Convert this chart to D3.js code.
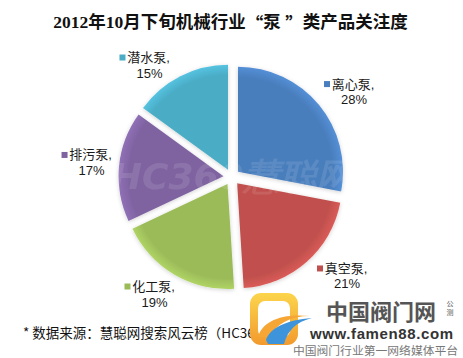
<!DOCTYPE html>
<html><head><meta charset="utf-8">
<script src="https://cdn.jsdelivr.net/npm/d3@7/dist/d3.min.js"></script>
<style>
html,body{margin:0;padding:0;background:#fff;}
svg{display:block;}
</style></head>
<body>
<svg id="chart" width="463" height="358"></svg>
<script>
// ---- data ----
const titleParts = ["2012年10月下旬机械行业", "“", "泵 ", "”", "类产品关注度"];
const categories = ["离心泵", "真空泵", "化工泵", "排污泵", "潜水泵"];
const values = [28, 21, 19, 17, 15];
const percentLabels = ["28%", "21%", "19%", "17%", "15%"];
const sourceText = "* 数据来源：慧聪网搜索风云榜（HC360）";

// ---- layout / style ----
const colors = ["#4a7ebd", "#c0504d", "#9bbb59", "#7f63a1", "#4bacc6"];
const W = 463, H = 358;
const cx = 231.7, cy = 177, R = 105, explode = 8.2, labelR = 145;
const labelNudge = [[9.6, 7], [18.4, -9.8], [-4.4, -7.8], [3.2, -0.9], [-17.4, 17.2]];
const cjk = "'Liberation Sans','Noto Sans CJK SC',sans-serif";

const svg = d3.select("#chart");
const defs = svg.append("defs");
const shadow = defs.append("filter").attr("id", "sh").attr("x", "-20%").attr("y", "-20%").attr("width", "140%").attr("height", "140%");
shadow.append("feDropShadow").attr("dx", 0).attr("dy", 1).attr("stdDeviation", 2).attr("flood-color", "#000").attr("flood-opacity", 0.18);

colors.forEach((c, i) => {
  const g = defs.append("radialGradient").attr("id", "g" + i)
    .attr("gradientUnits", "userSpaceOnUse").attr("cx", 0).attr("cy", 0).attr("r", R);
  g.append("stop").attr("offset", "0%").attr("stop-color", c);
  g.append("stop").attr("offset", "90%").attr("stop-color", c);
  g.append("stop").attr("offset", "100%").attr("stop-color", d3.color(c).brighter(0.35));
});

// title
const tt = svg.append("text").attr("x", 230.5).attr("y", 22).attr("text-anchor", "middle")
  .attr("dominant-baseline", "central")
  .style("font-family", "'Liberation Serif','Noto Sans CJK SC',serif")
  .style("font-weight", "bold").style("font-size", "17.5px").attr("fill", "#111");
titleParts.forEach((t, i) => {
  const s = tt.append("tspan").text(t);
  if (i === 1 || i === 3) s.style("font-family", "'Noto Sans CJK SC',sans-serif");
});

const pie = d3.pie().sort(null).value(d => d);
const arcs = pie(values);
const arc = d3.arc().innerRadius(0).outerRadius(R);

const g = svg.append("g").attr("transform", `translate(${cx},${cy})`);
g.selectAll("path.slice").data(arcs).join("path")
  .attr("class", "slice")
  .attr("d", arc)
  .attr("fill", (d, i) => `url(#g${i})`)
  .attr("filter", "url(#sh)")
  .attr("transform", d => {
    const m = (d.startAngle + d.endAngle) / 2;
    return `translate(${Math.sin(m) * explode},${-Math.cos(m) * explode})`;
  });

// faint watermark over the pie
g.append("text").attr("x", 0).attr("y", 12).attr("text-anchor", "middle")
  .style("font-family", "'DejaVu Sans',sans-serif").style("font-style", "italic").style("font-weight", "bold")
  .style("font-size", "36px").attr("fill", "#fff").attr("opacity", 0.1).text("HC360慧聪网");

// labels
const lab = g.selectAll("g.lab").data(arcs).join("g").attr("class", "lab")
  .attr("transform", (d, i) => {
    const m = (d.startAngle + d.endAngle) / 2;
    const x = Math.sin(m) * labelR + labelNudge[i][0];
    const y = -Math.cos(m) * labelR + labelNudge[i][1];
    return `translate(${x},${y})`;
  });
lab.append("text").attr("x", 0).attr("y", -7.5).attr("text-anchor", "middle")
  .attr("dominant-baseline", "central")
  .style("font-family", cjk).style("font-size", "13px").attr("fill", "#1a1a1a")
  .text((d, i) => categories[i] + ",");
lab.append("rect").attr("x", -29).attr("y", -10.5).attr("width", 6).attr("height", 6)
  .attr("fill", (d, i) => colors[i]);
lab.append("text").attr("x", 1).attr("y", 8).attr("text-anchor", "middle")
  .attr("dominant-baseline", "central")
  .style("font-family", cjk).style("font-size", "13px").attr("fill", "#1a1a1a")
  .text((d, i) => percentLabels[i]);

// source
svg.append("text").attr("x", 23).attr("y", 332).attr("dominant-baseline", "central")
  .style("font-family", "'Noto Sans CJK SC',sans-serif").style("font-size", "13.5px").attr("fill", "#111")
  .text(sourceText);

// famen88 watermark logo
const lg = svg.append("g");
const og = defs.append("linearGradient").attr("id", "og").attr("x1", 0).attr("y1", 0).attr("x2", 0).attr("y2", 1);
og.append("stop").attr("offset", "0%").attr("stop-color", "#fcd54c");
og.append("stop").attr("offset", "100%").attr("stop-color", "#f29a2e");
lg.append("rect").attr("x", 250).attr("y", 293).attr("width", 48).attr("height", 52).attr("rx", 11).attr("fill", "url(#og)");
lg.append("rect").attr("x", 258).attr("y", 301).attr("width", 32).attr("height", 36).attr("rx", 7).attr("fill", "#fff");
lg.append("path").attr("d", "M258,337 C262,322 280,313 310,316 C290,316 276,324 270,337 Z").attr("fill", "#f5a634");
lg.append("path").attr("d", "M266,340 C270,328 286,320 312,318 C296,322 288,330 284,344 L268,344 Z").attr("fill", "#3d94db");
lg.append("text").attr("x", 381).attr("y", 310).attr("text-anchor", "middle").attr("dominant-baseline", "central")
  .style("font-family", "'Noto Sans CJK SC',sans-serif").style("font-weight", "bold").style("font-size", "22px")
  .attr("fill", "#555").text("中国阀门网");
lg.append("text").attr("x", 450).attr("y", 303).attr("text-anchor", "middle").attr("dominant-baseline", "central")
  .style("font-family", "'Noto Sans CJK SC',sans-serif").style("font-size", "7px").attr("fill", "#555").text("公");
lg.append("text").attr("x", 450).attr("y", 312).attr("text-anchor", "middle").attr("dominant-baseline", "central")
  .style("font-family", "'Noto Sans CJK SC',sans-serif").style("font-size", "7px").attr("fill", "#555").text("测");
lg.append("text").attr("x", 381.5).attr("y", 333.5).attr("text-anchor", "middle").attr("dominant-baseline", "central")
  .style("font-family", "'Liberation Sans',sans-serif").style("font-weight", "bold").style("font-size", "15px")
  .attr("textLength", 143).attr("fill", "#333").text("www.famen88.com");
lg.append("text").attr("x", 375.5).attr("y", 349).attr("text-anchor", "middle").attr("dominant-baseline", "central")
  .style("font-family", "'Noto Sans CJK SC',sans-serif").style("font-size", "11.8px")
  .attr("fill", "#777").text("中国阀门行业第一网络媒体平台");
</script>
</body></html>
